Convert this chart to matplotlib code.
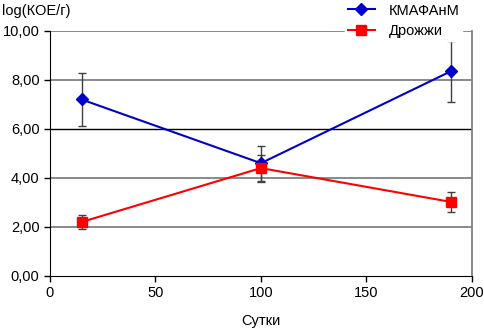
import matplotlib
matplotlib.use("Agg")
import matplotlib.pyplot as plt
from matplotlib.ticker import FuncFormatter

plt.rcParams['font.family'] = ['Liberation Sans', 'DejaVu Sans']

days = [15, 100, 190]
kmafanm = [7.2, 4.6, 8.35]
kmafanm_err = [1.08, 0.72, 1.25]
yeast = [2.2, 4.4, 3.02]
yeast_err = [0.3, 0.55, 0.42]
yticks = [0, 2, 4, 6, 8, 10]
xticks = [0, 50, 100, 150, 200]

fig = plt.figure(figsize=(4.85, 3.32), dpi=100)
ax = fig.add_axes([0.103, 0.169, 0.870, 0.738])

for y in yticks[1:]:
    ax.axhline(y, color='black' if y == 6 else '#808080', lw=1.3 if y != 6 else 1.0, zorder=1)

ax.errorbar(days, kmafanm, yerr=kmafanm_err, fmt='none', ecolor='#404040', elinewidth=1, capsize=3, zorder=2)
ax.errorbar(days, yeast, yerr=yeast_err, fmt='none', ecolor='#404040', elinewidth=1, capsize=3, zorder=2)
ax.plot(days, kmafanm, color='#0000cc', marker='D', markersize=6, lw=1.5, label='КМАФАнМ', zorder=3)
ax.plot(days, yeast, color='#ff0000', marker='s', markersize=7, lw=1.5, label='Дрожжи', zorder=3)

ax.set_xlim(0, 200)
ax.set_ylim(0, 10)
ax.set_xticks(xticks)
ax.set_yticks(yticks)
ax.yaxis.set_major_formatter(FuncFormatter(lambda v, p: f"{v:.2f}".replace('.', ',')))
ax.tick_params(labelsize=10.5, direction='out', length=4, width=1)
ax.spines['top'].set_visible(False)
ax.spines['right'].set_color('#808080')
ax.spines['right'].set_linewidth(1.3)
ax.spines['left'].set_color('black')
ax.spines['bottom'].set_color('black')

ax.set_xlabel('Сутки', fontsize=10.5, labelpad=10)
fig.text(0.004, 0.968, 'log(КОЕ/г)', fontsize=10.5, va='center', ha='left')

leg = fig.legend(loc='upper right', bbox_to_anchor=(0.968, 1.02), frameon=True, fontsize=10.5,
                 handlelength=1.9, borderpad=0.2, labelspacing=0.45, handletextpad=0.9)
leg.get_frame().set_edgecolor('white')
leg.get_frame().set_facecolor('white')
leg.get_frame().set_alpha(1)

fig.savefig('out.png', dpi=100)
